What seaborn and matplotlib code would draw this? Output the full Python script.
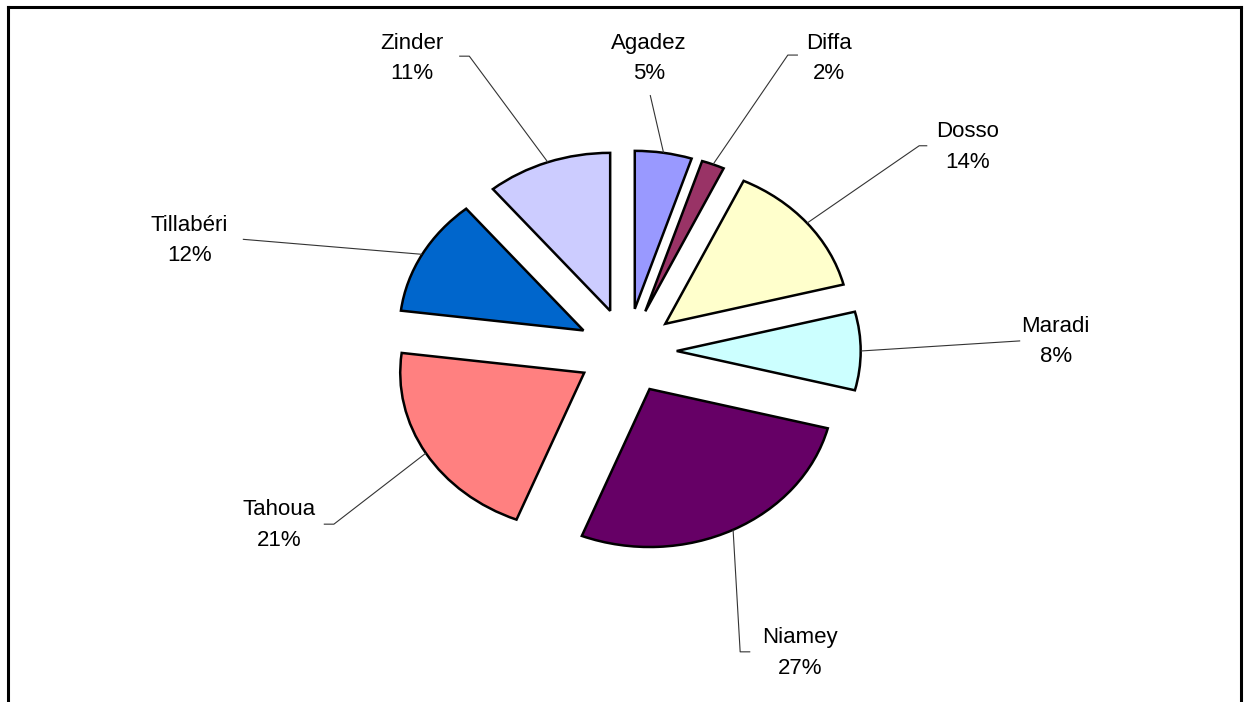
import numpy as np
import matplotlib
matplotlib.use("Agg")
import matplotlib.pyplot as plt
from matplotlib.lines import Line2D
import seaborn as sns

# data (clockwise from 12 o'clock)
regions = ['Agadez', 'Diffa', 'Dosso', 'Maradi', 'Niamey', 'Tahoua', 'Tillabéri', 'Zinder']
shares = [5, 2, 14, 8, 27, 21, 12, 11]
slice_colors = ['#9999FF', '#993366', '#FFFFCC', '#CCFFFF', '#660066', '#FF8080', '#0066CC', '#CCCCFF']

# label placement (data units, pie radius = 1) : text centre and elbow of leader line
label_pos = [(0.12, 1.85), (1.10, 1.85), (1.85, 1.29), (2.33, 0.06),
             (0.94, -1.91), (-1.89, -1.10), (-2.38, 0.70), (-1.17, 1.85)]
elbow_pos = [(0.126, 1.62), (0.874, 1.873), (1.588, 1.299), (2.137, 0.064),
             (0.615, -1.904), (-1.593, -1.096), (-2.088, 0.707), (-0.857, 1.866)]
tick_end = [None, 0.929, 1.632, None, 0.670, -1.648, None, -0.912]

sns.set_style("white")
plt.rcParams['font.family'] = ['Liberation Sans', 'DejaVu Sans']

W, H = 1247, 702
fig = plt.figure(figsize=(W / 100, H / 100), dpi=100)
ax = fig.add_axes([0, 0, 1, 1])

explode_frac = 0.27
wedges, _ = ax.pie(shares, colors=sns.color_palette(slice_colors), startangle=90,
                   counterclock=False, explode=[explode_frac] * len(shares),
                   wedgeprops=dict(edgecolor='black', linewidth=1.8), normalize=True)

# make the pie slightly elliptical like the original
cx, cy, rx, ry = 627, 351, 184, 158
ax.set_aspect('auto')
ax.set_xlim(-cx / rx, (W - cx) / rx)
ax.set_ylim(-(H - cy) / ry, cy / ry)
ax.axis('off')

total = sum(shares)
cum = np.cumsum([0] + shares)
for i, name in enumerate(regions):
    mid = (cum[i] + shares[i] / 2) / total * 2 * np.pi
    r = 1 + explode_frac
    sx, sy = r * np.sin(mid), r * np.cos(mid)
    ex, ey = elbow_pos[i]
    xs, ys = [sx, ex], [sy, ey]
    if tick_end[i] is not None:
        xs.append(tick_end[i])
        ys.append(ey)
    ax.plot(xs, ys, color='#333333', linewidth=0.8, solid_capstyle='butt')
    tx, ty = label_pos[i]
    ax.text(tx, ty, f"{name}\n{shares[i]}%", ha='center', va='center',
            fontsize=16, linespacing=1.6, color='black')

# outer frame (bottom edge falls outside the image)
for xy in [([8 / W, 8 / W], [-0.1, 1 - 7 / H]),
           ([8 / W, 1241 / W], [1 - 7 / H, 1 - 7 / H]),
           ([1241 / W, 1241 / W], [1 - 7 / H, -0.1])]:
    fig.add_artist(Line2D(xy[0], xy[1], color='black', linewidth=2.2,
                          transform=fig.transFigure, solid_capstyle='projecting'))

fig.savefig('out.png', dpi=100, facecolor='white')
plt.close(fig)
